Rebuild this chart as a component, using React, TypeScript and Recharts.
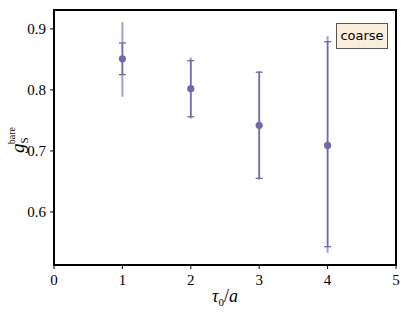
import React from 'react';
import { ScatterChart, Scatter, XAxis, YAxis, ErrorBar, ReferenceArea } from 'recharts';

const tau = [1, 2, 3, 4];
const gS = [0.851, 0.802, 0.742, 0.709];
// inner (capped) error band
const innerLo = [0.825, 0.756, 0.655, 0.543];
const innerHi = [0.877, 0.848, 0.829, 0.879];
// outer (no caps) error band
const outerLo = [0.789, 0.753, 0.653, 0.533];
const outerHi = [0.911, 0.853, 0.831, 0.888];

const xTicks = [0, 1, 2, 3, 4, 5];
const yTicks = [0.6, 0.7, 0.8, 0.9];
const yDomain: [number, number] = [0.513, 0.931];

const data = tau.map((t, i) => ({
    x: t,
    y: gS[i],
    inner: [gS[i] - innerLo[i], innerHi[i] - gS[i]],
    outer: [gS[i] - outerLo[i], outerHi[i] - gS[i]],
}));

const purple = '#6d68b0';
const serif = 'Liberation Serif';

const YLabel = () => (
    <text x={24} y={140} transform="rotate(-90 24 140)" fontFamily={serif} fill="#000" textAnchor="middle">
        <tspan fontStyle="italic" fontSize={19}>g</tspan>
        <tspan fontSize={11} dy={4}>S</tspan>
        <tspan fontSize={10} dy={-13} dx={-7}>bare</tspan>
    </text>
);

const XLabel = () => (
    <text x={225} y={302} fontFamily={serif} fill="#000" textAnchor="middle">
        <tspan fontStyle="italic" fontSize={18}>τ</tspan>
        <tspan fontSize={11} dy={4}>0</tspan>
        <tspan fontSize={18} dy={-4}>/</tspan>
        <tspan fontStyle="italic" fontSize={18}>a</tspan>
    </text>
);

const XTick = (props: any) => (
    <text x={props.x} y={props.y + 14} textAnchor="middle" fontFamily={serif} fontSize={15} fill="#000">
        {props.payload.value}
    </text>
);

const YTick = (props: any) => (
    <text x={props.x - 2} y={props.y + 5} textAnchor="end" fontFamily={serif} fontSize={15} fill="#000">
        {props.payload.value.toFixed(1)}
    </text>
);

const Dot = (props: any) => <circle cx={props.cx} cy={props.cy} r={3.6} fill={purple} />;

export default function App() {
    return (
        <div style={{ position: 'absolute', left: 0, top: 0, width: 407, height: 313, background: '#fff' }}>
            <ScatterChart width={407} height={313} margin={{ top: 10, right: 11, left: 0, bottom: 0 }}>
                <XAxis
                    type="number"
                    dataKey="x"
                    domain={[0, 5]}
                    ticks={xTicks}
                    height={48}
                    axisLine={false}
                    tickLine={{ stroke: '#000' }}
                    tickSize={4}
                    tick={XTick}
                />
                <YAxis
                    type="number"
                    dataKey="y"
                    domain={yDomain}
                    ticks={yTicks}
                    width={54}
                    axisLine={false}
                    tickLine={{ stroke: '#000' }}
                    tickSize={4}
                    tick={YTick}
                />
                <ReferenceArea x1={0} x2={5} y1={yDomain[0]} y2={yDomain[1]} fill="none" stroke="#000" strokeWidth={2} />
                <Scatter data={data} shape={Dot} isAnimationActive={false}>
                    <ErrorBar dataKey="outer" direction="y" width={0} stroke="#8a86c6" strokeWidth={2} opacity={0.8} />
                    <ErrorBar dataKey="inner" direction="y" width={3.5} stroke={purple} strokeWidth={1.3} />
                </Scatter>
                <YLabel />
                <XLabel />
            </ScatterChart>
            <div style={{
                position: 'absolute',
                left: 336,
                top: 23,
                width: 52,
                height: 26,
                boxSizing: 'border-box',
                background: '#fbeedb',
                border: '1px solid #555',
                fontFamily: '"DejaVu Sans", sans-serif',
                fontSize: 13,
                lineHeight: '24px',
                textAlign: 'center',
                color: '#000'
            }}>
                coarse
            </div>
        </div>
    );
}
